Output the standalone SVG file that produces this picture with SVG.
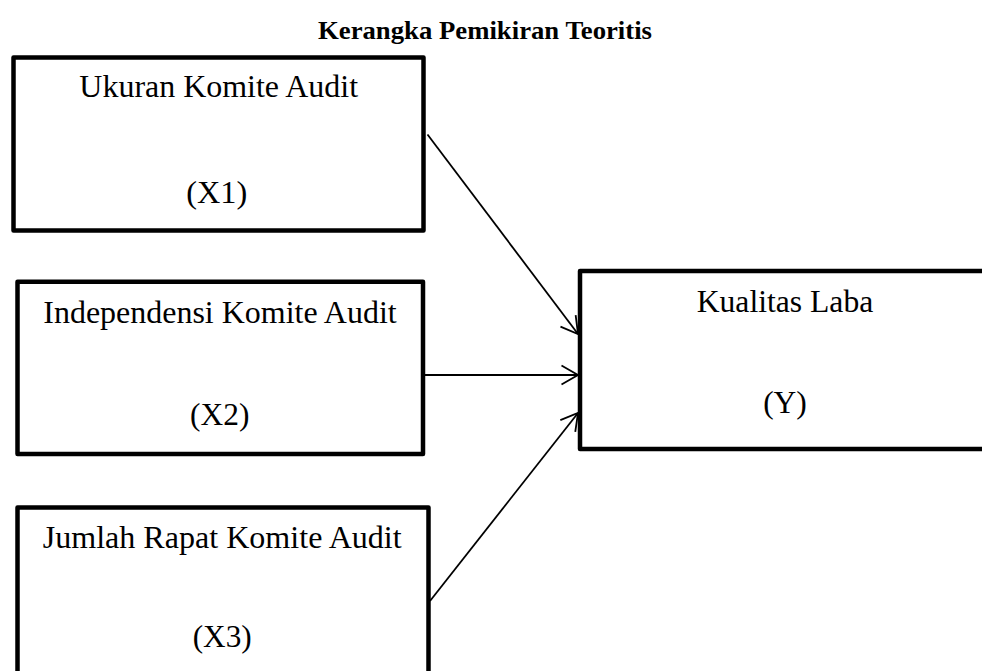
<svg xmlns="http://www.w3.org/2000/svg" width="982" height="671" viewBox="0 0 982 671">
<style>
.box{fill:#fff;stroke:#000;stroke-width:4.5;stroke-linejoin:round}
.t{font-family:"Liberation Serif","Times New Roman",serif;font-size:31px;fill:#000;text-anchor:middle}
.title{font-family:"Liberation Serif","Times New Roman",serif;font-size:26px;font-weight:bold;fill:#000;text-anchor:middle}
.c{stroke:#000;stroke-width:1.8;fill:none;marker-end:url(#ah)}
</style>
<defs>
<marker id="ah" markerUnits="userSpaceOnUse" viewBox="-20 -12 22 24" markerWidth="22" markerHeight="24" refX="0" refY="0" orient="auto">
<path d="M-16.5,-9.5 L0,0 L-16.5,9.5" fill="none" stroke="#000" stroke-width="1.8"/>
</marker>
</defs>
<rect width="982" height="671" fill="#fff"/>
<text class="title" x="485" y="39" textLength="334" lengthAdjust="spacingAndGlyphs">Kerangka Pemikiran Teoritis</text>
<g id="connectors">
<line class="c" x1="427.5" y1="134.5" x2="578" y2="334"/>
<line class="c" x1="420" y1="375" x2="578" y2="375"/>
<line class="c" x1="430" y1="601" x2="578" y2="413"/>
</g>
<g id="x1">
<rect class="box" x="13.5" y="57.5" width="410" height="173"/>
<text class="t" x="218.7" y="97" textLength="278.7" lengthAdjust="spacingAndGlyphs">Ukuran Komite Audit</text>
<text class="t" x="216.7" y="202.7" textLength="61" lengthAdjust="spacingAndGlyphs">(X1)</text>
</g>
<g id="x2">
<rect class="box" x="17.5" y="281.7" width="405.5" height="172.3"/>
<text class="t" x="220" y="323.3" textLength="353.4" lengthAdjust="spacingAndGlyphs">Independensi Komite Audit</text>
<text class="t" x="219.7" y="425" textLength="59.3" lengthAdjust="spacingAndGlyphs">(X2)</text>
</g>
<g id="x3">
<rect class="box" x="17.5" y="507.5" width="411" height="190"/>
<text class="t" x="222.2" y="548.3" textLength="359" lengthAdjust="spacingAndGlyphs">Jumlah Rapat Komite Audit</text>
<text class="t" x="222.2" y="646.7" textLength="59" lengthAdjust="spacingAndGlyphs">(X3)</text>
</g>
<g id="y">
<rect class="box" x="580" y="271" width="420" height="178"/>
<text class="t" x="785" y="311.7" textLength="176.6" lengthAdjust="spacingAndGlyphs">Kualitas Laba</text>
<text class="t" x="785" y="413.3" textLength="43.7" lengthAdjust="spacingAndGlyphs">(Y)</text>
</g>
</svg>
